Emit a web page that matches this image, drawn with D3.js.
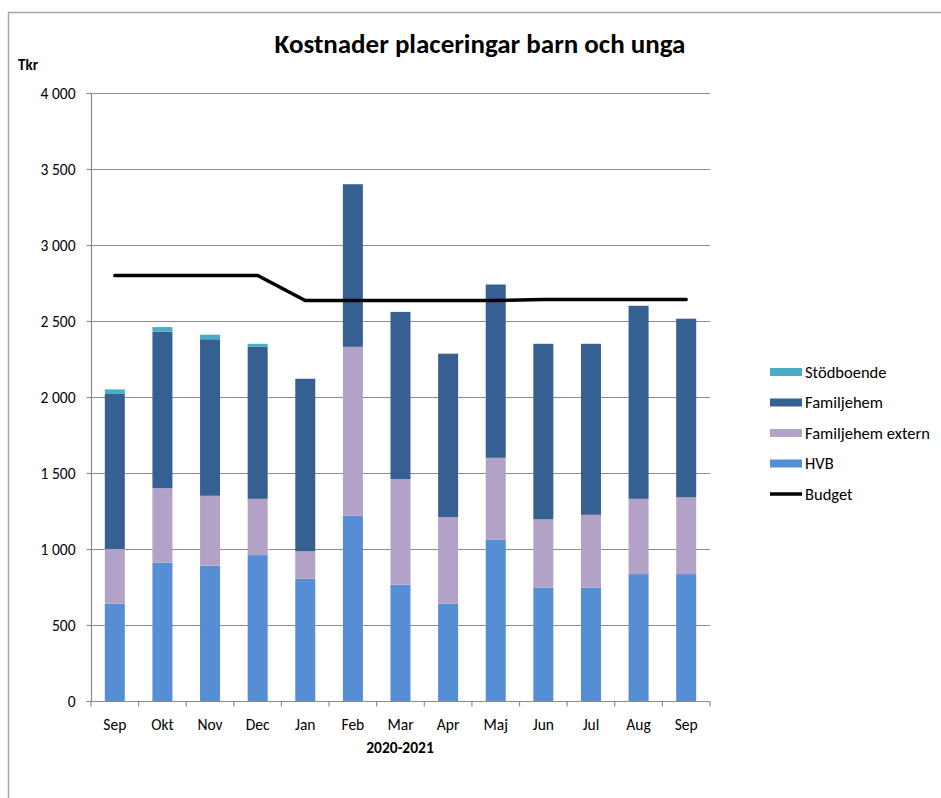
<!DOCTYPE html>
<html><head><meta charset="utf-8">
<script src="https://cdn.jsdelivr.net/npm/d3@7"></script>
<style>body{margin:0;background:#fff}svg{display:block}</style>
</head><body>
<svg id="c" width="941" height="798"></svg>
<script>
const months = ["Sep","Okt","Nov","Dec","Jan","Feb","Mar","Apr","Maj","Jun","Jul","Aug","Sep"];
const hvb = [640,910,890,960,805,1220,765,640,1060,745,745,835,835];
const famExtern = [360,490,460,370,180,1110,695,570,540,450,480,495,505];
const familjehem = [1020,1030,1030,1000,1135,1070,1100,1075,1140,1155,1125,1270,1175];
const stodboende = [30,30,30,20,0,0,0,0,0,0,0,0,0];
const budget = [2800,2800,2800,2800,2635,2635,2635,2635,2635,2642,2642,2642,2642];
const yTicks = [0,500,1000,1500,2000,2500,3000,3500,4000];
const seriesNames = ["HVB","Familjehem extern","Familjehem","Stödboende"];
const colors = {"HVB":"#558ED5","Familjehem extern":"#B3A2C7","Familjehem":"#376092","Stödboende":"#4BACC6"};

const svg = d3.select("#c");
const font = "Carlito, Lato, 'Open Sans', sans-serif";
// frame
svg.append("path").attr("d","M8.5,798 V12.5 H941").attr("fill","none").attr("stroke","#a6a6a6").attr("stroke-width",1.5);

const m = {l:91, r:710, t:93, b:701};
const x = d3.scaleBand().domain(d3.range(months.length)).range([m.l,m.r]).paddingInner(0.58).paddingOuter(0.29);
const y = d3.scaleLinear().domain([0,4000]).range([m.b,m.t]);

// gridlines
svg.append("g").selectAll("line").data(yTicks.filter(d=>d>0)).join("line")
  .attr("x1",m.l).attr("x2",m.r).attr("y1",d=>y(d)+0.5).attr("y2",d=>y(d)+0.5)
  .attr("stroke","#8c8c8c").attr("stroke-width",1.2);

// stacked bars
const rows = months.map((mo,i)=>({i, "HVB":hvb[i],"Familjehem extern":famExtern[i],"Familjehem":familjehem[i],"Stödboende":stodboende[i]}));
const stack = d3.stack().keys(seriesNames)(rows);
svg.append("g").selectAll("g").data(stack).join("g").attr("fill",d=>colors[d.key])
  .selectAll("rect").data(d=>d).join("rect")
  .attr("x",d=>x(d.data.i)).attr("width",x.bandwidth())
  .attr("y",d=>y(d[1])).attr("height",d=>Math.max(0,y(d[0])-y(d[1])));

// y axis
const yAxis = d3.axisLeft(y).tickValues(yTicks).tickSize(5).tickFormat(d=>d3.format(",")(d).replace(/,/g," "));
const ga = svg.append("g").attr("transform",`translate(${m.l+0.5},0)`).call(yAxis);
ga.select(".domain").attr("stroke","#8c8c8c").attr("stroke-width",1.2).attr("d",`M-5,${m.t}.5H0V${m.b}.5H-5`);
ga.selectAll(".tick line").attr("stroke","#8c8c8c").attr("stroke-width",1.2);
ga.selectAll("text").attr("font-family",font).attr("font-size",15.5).attr("fill","#000").attr("x",-16).attr("dy","0.35em");

// x axis
const gx = svg.append("g").attr("transform",`translate(0,${m.b+0.5})`);
gx.append("line").attr("x1",m.l).attr("x2",m.r).attr("stroke","#8c8c8c").attr("stroke-width",1.2);
gx.selectAll("line.t").data(d3.range(months.length+1)).join("line").attr("class","t")
  .attr("x1",i=>m.l+(m.r-m.l)*i/months.length).attr("x2",i=>m.l+(m.r-m.l)*i/months.length)
  .attr("y1",0).attr("y2",5).attr("stroke","#8c8c8c").attr("stroke-width",1.2);
gx.selectAll("text").data(months).join("text")
  .attr("x",(d,i)=>x(i)+x.bandwidth()/2).attr("y",28).attr("text-anchor","middle")
  .attr("font-family",font).attr("font-size",15.5).attr("fill","#000").text(d=>d);

// budget line
const line = d3.line().x((d,i)=>x(i)+x.bandwidth()/2).y(d=>y(d));
svg.append("path").datum(budget).attr("d",line).attr("fill","none").attr("stroke","#000").attr("stroke-width",3.5).attr("stroke-linecap","round");

// titles
svg.append("text").attr("x",480).attr("y",53).attr("text-anchor","middle").attr("font-family",font)
  .attr("font-weight","bold").attr("font-size",27).text("Kostnader placeringar barn och unga");
svg.append("text").attr("x",18).attr("y",70).attr("font-family",font).attr("font-weight","bold").attr("font-size",15).text("Tkr");
svg.append("text").attr("x",400).attr("y",753).attr("text-anchor","middle").attr("font-family",font).attr("font-weight","bold").attr("font-size",15.5).text("2020-2021");

// legend
const leg = [{k:"Stödboende",t:"rect"},{k:"Familjehem",t:"rect"},{k:"Familjehem extern",t:"rect"},{k:"HVB",t:"rect"},{k:"Budget",t:"line"}];
const lg = svg.append("g").selectAll("g").data(leg).join("g").attr("transform",(d,i)=>`translate(770,${372+i*30.5})`);
lg.filter(d=>d.t==="rect").append("rect").attr("x",0).attr("y",-4).attr("width",32).attr("height",8).attr("fill",d=>colors[d.k]);
lg.filter(d=>d.t==="line").append("line").attr("x1",0).attr("x2",32).attr("stroke","#000").attr("stroke-width",3.5);
lg.append("text").attr("x",35).attr("dy","0.35em").attr("font-family",font).attr("font-size",16.5).text(d=>d.k);
</script>
</body></html>
